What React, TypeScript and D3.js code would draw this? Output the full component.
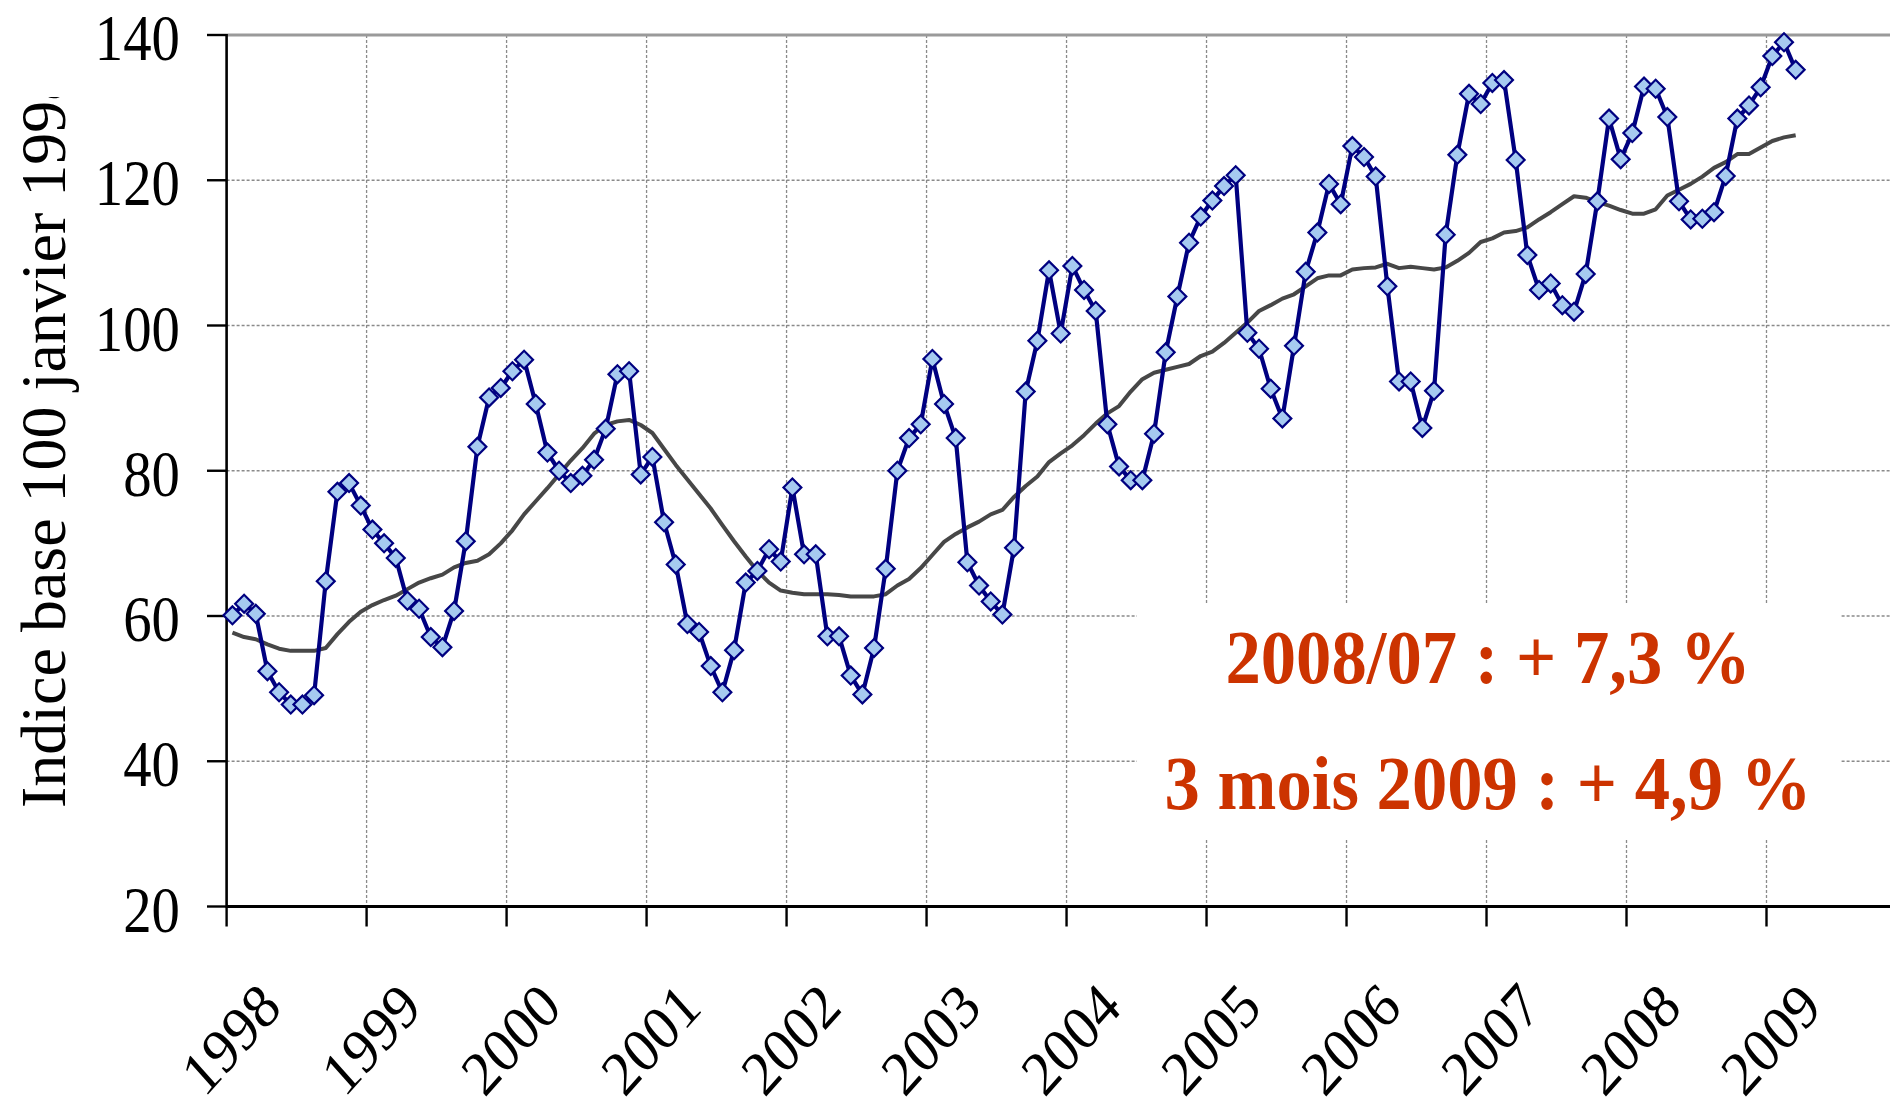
import React from 'react';
import * as d3 from 'd3';

const START_YEAR = 1998;
const yearTicks = [1998, 1999, 2000, 2001, 2002, 2003, 2004, 2005, 2006, 2007, 2008, 2009];
const yTicks = [20, 40, 60, 80, 100, 120, 140];

// Monthly index, January 1998 to March 2009
const indexValues = [
  60.1, 61.7, 60.3, 52.4, 49.5, 47.8, 47.8, 49.1, 64.8, 77.1, 78.3, 75.2,
  71.9, 70.0, 68.0, 62.1, 61.0, 57.1, 55.7, 60.7, 70.3, 83.3, 90.1, 91.4,
  93.7, 95.3, 89.2, 82.5, 80.0, 78.3, 79.3, 81.5, 85.8, 93.3, 93.7, 79.5,
  81.9, 72.9, 67.1, 58.9, 57.8, 53.1, 49.5, 55.3, 64.6, 66.2, 69.2, 67.5,
  77.7, 68.5, 68.5, 57.2, 57.2, 51.8, 49.2, 55.6, 66.5, 80.0, 84.5, 86.4,
  95.4, 89.2, 84.5, 67.4, 64.2, 62.0, 60.2, 69.4, 90.9, 97.9, 107.6, 98.9,
  108.2, 104.9, 102.0, 86.4, 80.6, 78.7, 78.7, 85.1, 96.3, 104.0, 111.4, 115.0,
  117.2, 119.2, 120.7, 99.0, 96.8, 91.3, 87.2, 97.2, 107.4, 112.8, 119.5, 116.7,
  124.7, 123.2, 120.5, 105.4, 92.3, 92.3, 85.9, 91.0, 112.5, 123.5, 131.9, 130.5,
  133.4, 133.8, 122.8, 109.7, 104.9, 105.8, 102.8, 101.9, 107.1, 117.1, 128.5, 122.9,
  126.5, 132.9, 132.6, 128.7, 117.1, 114.6, 114.7, 115.6, 120.6, 128.5, 130.3, 132.8,
  137.1, 139.0, 135.2,
];

// Moving average
const movingAverage = [
  57.7, 57.1, 56.8, 56.1, 55.5, 55.2, 55.2, 55.2, 55.6, 57.5, 59.2, 60.6,
  61.5, 62.2, 62.8, 63.7, 64.6, 65.2, 65.7, 66.7, 67.3, 67.6, 68.5, 70.0,
  71.8, 74.0, 75.8, 77.6, 79.5, 81.4, 83.1, 85.1, 86.3, 86.8, 87.0, 86.3,
  85.2, 83.0, 80.8, 78.8, 76.8, 74.8, 72.5, 70.3, 68.2, 66.2, 64.6, 63.5,
  63.2, 63.0, 63.0, 63.0, 62.9, 62.7, 62.7, 62.7, 63.0, 64.2, 65.1, 66.6,
  68.4, 70.2, 71.3, 72.2, 73.0, 74.0, 74.6, 76.4, 77.9, 79.2, 81.2, 82.4,
  83.5, 84.9, 86.5, 87.9, 88.9, 90.9, 92.6, 93.5, 93.9, 94.3, 94.7, 95.8,
  96.4, 97.6, 99.0, 100.4, 102.0, 102.8, 103.7, 104.3, 105.4, 106.5, 106.9, 106.9,
  107.7, 107.9, 108.0, 108.5, 107.9, 108.1, 107.9, 107.7, 108.0, 108.9, 110.0, 111.5,
  112.0, 112.8, 113.0, 113.5, 114.6, 115.6, 116.7, 117.8, 117.6, 117.0, 116.5, 115.9,
  115.4, 115.4, 116.0, 117.9, 118.7, 119.5, 120.5, 121.7, 122.5, 123.6, 123.6, 124.5,
  125.4, 125.9, 126.2,
];

const noteLines = ['2008/07 : + 7,3 %', '3 mois 2009 : + 4,9 %'];
const yTitle = 'Indice base 100 janvier 1998';

const W = 1890;
const H = 1108;
const LEFT = 226.6;
const x = d3.scaleLinear().domain([1998, 2009]).range([LEFT, 1766.5]);
const y = d3.scaleLinear().domain([20, 140]).range([906.5, 35]);
const monthX = (i: number) => x(START_YEAR + (i + 0.5) / 12);

const line = d3
  .line<number>()
  .x((_, i) => monthX(i))
  .y((d) => y(d));

const diamond = d3.symbol().type(d3.symbolSquare).size(160)();

const SERIF = "'Liberation Serif', 'Times New Roman', serif";

export default function App() {
  const gridY = yTicks.filter((t) => t > 20 && t < 140);
  const gridX = yearTicks.filter((t) => t > 1998);
  return (
    <svg
      width={W}
      height={H}
      viewBox={`0 0 ${W} ${H}`}
      style={{ position: 'absolute', left: 0, top: 0, background: '#fff' }}
    >
      <defs>
        <clipPath id="titleClip">
          <rect x={0} y={97} width={220} height={H - 97} />
        </clipPath>
      </defs>
      <rect x={0} y={0} width={W} height={H} fill="#fff" />
      {/* grid */}
      {gridY.map((t) => (
        <line key={'gy' + t} x1={LEFT} x2={W} y1={y(t)} y2={y(t)} stroke="#8a8a8a" strokeWidth={1.3} strokeDasharray="3,2" />
      ))}
      {gridX.map((t) => (
        <line key={'gx' + t} x1={x(t)} x2={x(t)} y1={y(140)} y2={y(20)} stroke="#8a8a8a" strokeWidth={1.3} strokeDasharray="3,2" />
      ))}
      {/* annotation backing */}
      <rect x={1137} y={603} width={703} height={236} fill="#fff" />
      {/* top border */}
      <line x1={LEFT} x2={W} y1={y(140)} y2={y(140)} stroke="#9a9a9a" strokeWidth={3.2} />
      {/* axes */}
      <line x1={LEFT} x2={LEFT} y1={y(140) - 1} y2={y(20) + 1} stroke="#000" strokeWidth={2.6} />
      <line x1={LEFT} x2={W} y1={y(20)} y2={y(20)} stroke="#000" strokeWidth={3.2} />
      {yTicks.map((t) => (
        <line key={'ty' + t} x1={207} x2={LEFT} y1={y(t)} y2={y(t)} stroke="#000" strokeWidth={2.4} />
      ))}
      {yearTicks.map((t) => (
        <line key={'tx' + t} x1={x(t)} x2={x(t)} y1={y(20)} y2={y(20) + 20} stroke="#000" strokeWidth={2.4} />
      ))}
      {/* moving average */}
      <path d={line(movingAverage) || ''} fill="none" stroke="#474747" strokeWidth={4} strokeLinejoin="round" />
      {/* index */}
      <path d={line(indexValues) || ''} fill="none" stroke="#000080" strokeWidth={4.2} strokeLinejoin="round" />
      {indexValues.map((v, i) => (
        <path
          key={'p' + i}
          d={diamond || ''}
          transform={`translate(${monthX(i)},${y(v)}) rotate(45)`}
          fill="#A6CAF0"
          stroke="#000080"
          strokeWidth={2.2}
        />
      ))}
      {/* y tick labels */}
      {yTicks.map((t) => (
        <text
          key={'ly' + t}
          transform={`translate(180,${y(t) + 25}) scale(0.86,1)`}
          textAnchor="end"
          fontFamily={SERIF}
          fontSize={66}
          fill="#000"
        >
          {t}
        </text>
      ))}
      {/* x tick labels */}
      {yearTicks.map((t) => (
        <g key={'lx' + t} transform={`translate(${x(t) + 4},1039) scale(1,1.12) rotate(-45)`}>
          <text textAnchor="middle" dy={19} fontFamily={SERIF} fontSize={56} fill="#000">
            {t}
          </text>
        </g>
      ))}
      {/* y title */}
      <g clipPath="url(#titleClip)">
        <text transform="translate(65,808) rotate(-90)" fontFamily={SERIF} fontSize={64} fill="#000">
          {yTitle}
        </text>
      </g>
      {/* annotation */}
      {noteLines.map((s, i) => (
        <text
          key={'n' + i}
          transform={`translate(1488,${i === 0 ? 683 : 809}) scale(0.93,1)`}
          textAnchor="middle"
          fontFamily={SERIF}
          fontWeight="bold"
          fontSize={76}
          fill="#CC3300"
        >
          {s}
        </text>
      ))}
    </svg>
  );
}
